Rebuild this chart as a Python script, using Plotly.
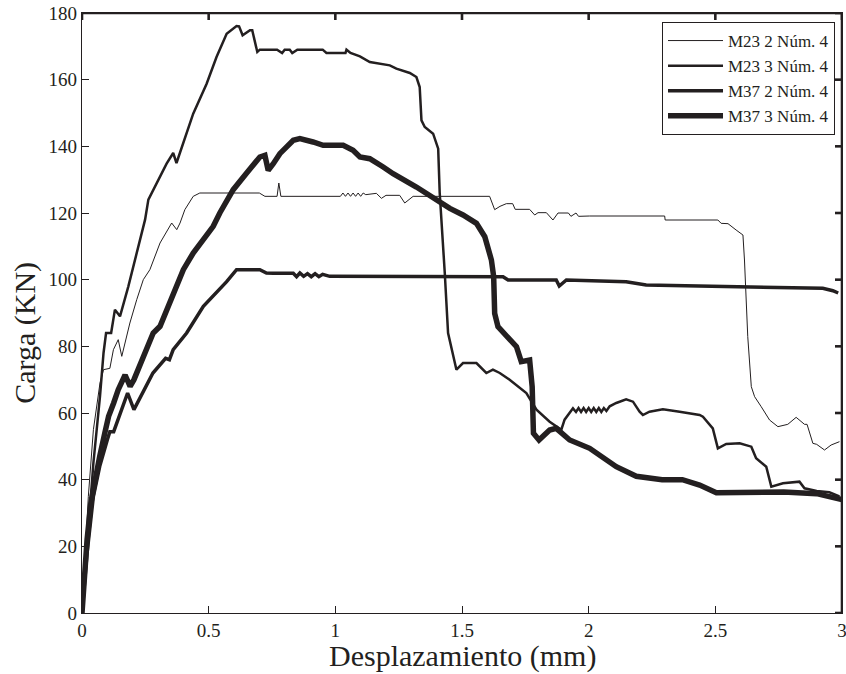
import plotly.graph_objects as go

# ---------------- data ----------------
m23_2_x = [0, 0.01, 0.025, 0.045, 0.06, 0.071, 0.085, 0.11, 0.124, 0.143, 0.157, 0.189, 0.216, 0.242,
           0.268, 0.308, 0.354, 0.374, 0.387, 0.406, 0.439, 0.465, 0.70, 0.722, 0.77, 0.777, 0.785,
           1.02, 1.03, 1.04, 1.05, 1.06, 1.07, 1.08, 1.09, 1.10, 1.11, 1.12, 1.162, 1.182, 1.20, 1.254,
           1.274, 1.307, 1.609, 1.629, 1.65, 1.675, 1.70, 1.71, 1.767, 1.787, 1.80, 1.833, 1.859, 1.879,
           1.92, 1.93, 1.95, 1.96, 2.004, 2.30, 2.302, 2.51, 2.523, 2.55, 2.582, 2.609, 2.615, 2.628,
           2.642, 2.655, 2.681, 2.714, 2.747, 2.786, 2.819, 2.852, 2.862, 2.885, 2.90, 2.931, 2.957, 2.99]
m23_2_y = [0, 15, 35, 55, 64, 69, 73, 73.4, 79, 82, 77, 87, 94, 100,
           103, 111, 117, 115, 117, 121, 125, 126, 126, 125, 125, 129, 125,
           125, 126, 125, 126, 125, 126, 125, 126, 125, 126, 125.5, 125.9, 124.4, 125.3, 125.3,
           123.0, 125.0, 125.0, 121.0, 122.0, 122.8, 122.8, 121.1, 121.1, 119.4, 120.1, 120.1, 117.9, 120,
           120, 119, 120, 119, 119.1, 119.1, 117.9, 117.9, 116.9, 116.8, 114.9, 113.4, 105.9, 82.9,
           67.9, 64.9, 61.9, 57.9, 55.9, 56.6, 58.7, 56.6, 56.6, 50.9, 50.6, 48.9, 50.4, 51.4]

m23_3_x = [0, 0.02, 0.045, 0.071, 0.085, 0.095, 0.115, 0.13, 0.15, 0.183, 0.249, 0.262, 0.308, 0.334,
           0.36, 0.373, 0.439, 0.492, 0.531, 0.571, 0.61, 0.62, 0.634, 0.663, 0.672, 0.692, 0.702,
           0.77, 0.79, 0.80, 0.82, 0.83, 0.85, 0.95, 0.965, 0.98, 1.04, 1.044, 1.06, 1.097, 1.136,
           1.215, 1.241, 1.294, 1.32, 1.333, 1.34, 1.353, 1.386, 1.406, 1.412, 1.432, 1.445, 1.478,
           1.504, 1.557, 1.596, 1.622, 1.649, 1.688, 1.754, 1.794, 1.846, 1.892, 1.905, 1.938, 1.95,
           1.96, 1.97, 1.98, 1.99, 2.0, 2.01, 2.02, 2.03, 2.04, 2.05, 2.06, 2.07, 2.083, 2.109, 2.148,
           2.175, 2.201, 2.214, 2.24, 2.293, 2.359, 2.438, 2.451, 2.49, 2.51, 2.543, 2.596, 2.642,
           2.661, 2.701, 2.721, 2.767, 2.832, 2.852, 2.9, 2.95, 2.99]
m23_3_y = [0, 20, 45, 65, 78, 84, 84, 91, 89, 98, 118, 124, 130.8, 134.8,
           138, 135, 149.8, 158.8, 166.8, 173.8, 176.1, 176, 173.3, 174.8, 174.8, 168.3, 169,
           169, 168, 169, 169, 168, 169, 169, 168, 168, 168, 169, 168, 167, 165.3,
           164.3, 163.3, 162, 160.8, 157.8, 147.8, 145.8, 143.8, 139.3, 126, 102, 84, 73,
           75, 75, 72, 73, 72, 70, 66, 61, 57.4, 55, 58, 61.4, 60.3,
           61.5, 60.3, 61.5, 60.3, 61.5, 60.3, 61.5, 60.3, 61.5, 60.3, 61.5, 60.6, 62, 63, 64.1,
           63.4, 60.4, 59.4, 60.4, 61.1, 60.4, 59.4, 58.9, 55.4, 49.4, 50.7, 50.9, 49.9,
           46.4, 43.9, 37.9, 38.9, 39.4, 37.4, 36.6, 36.2, 35]

m37_2_x = [0, 0.02, 0.045, 0.07, 0.1, 0.11, 0.125, 0.15, 0.18, 0.205, 0.24, 0.28, 0.33, 0.345,
           0.36, 0.413, 0.479, 0.531, 0.571, 0.61, 0.702, 0.728, 0.755, 0.834, 0.847, 0.86, 0.875,
           0.89, 0.905, 0.92, 0.935, 0.95, 0.978, 1.662, 1.682, 1.872, 1.884, 1.912, 2.148, 2.227,
           2.635, 2.924, 2.964, 2.985]
m37_2_y = [0, 18, 35, 44, 52, 54.4, 54.4, 60, 66, 61, 66, 72, 76.4, 76,
           79, 84, 92, 96, 99.4, 103, 103, 102, 101.9, 101.9, 100.9, 102, 101,
           101.8, 100.9, 101.8, 100.9, 101.6, 101, 100.9, 99.9, 99.9, 98.1, 99.9, 99.4, 98.4,
           97.9, 97.4, 96.7, 96]

m37_3_x = [0, 0.01, 0.02, 0.035, 0.05, 0.07, 0.09, 0.105, 0.125, 0.143, 0.17, 0.19, 0.205, 0.242,
           0.281, 0.308, 0.347, 0.4, 0.439, 0.479, 0.518, 0.544, 0.597, 0.65, 0.702, 0.722, 0.735,
           0.755, 0.781, 0.834, 0.86, 0.912, 0.952, 1.031, 1.07, 1.097, 1.136, 1.189, 1.228, 1.32,
           1.399, 1.452, 1.504, 1.557, 1.59, 1.616, 1.625, 1.629, 1.642, 1.675, 1.715, 1.734, 1.767,
           1.777, 1.782, 1.804, 1.846, 1.872, 1.925, 2.004, 2.109, 2.188, 2.29, 2.37, 2.438, 2.504,
           2.635, 2.77, 2.9, 2.95, 3.0]
m37_3_y = [0, 12, 22, 33, 40, 47, 54, 59, 63, 67, 71.4, 68, 70, 77,
           84, 86, 93, 103, 108, 112, 116, 120, 127, 132, 136.8, 137.3, 132.8,
           134.8, 137.8, 141.8, 142.3, 141.3, 140.3, 140.3, 138.8, 136.8, 136.3, 133.8, 131.8, 127.8,
           123.9, 121.4, 119.4, 116.9, 112.9, 105.9, 100.9, 89.9, 85.9, 82.9, 79.9, 75.4, 75.9,
           67.9, 53.9, 51.9, 54.9, 55.4, 51.9, 49.4, 43.9, 41, 40, 40, 38.4, 36.1,
           36.1, 36.3, 35.8, 35, 34]

series_names = ["M23 2 Núm. 4", "M23 3 Núm. 4", "M37 2 Núm. 4", "M37 3 Núm. 4"]
x_ticks = [0, 0.5, 1, 1.5, 2, 2.5, 3]
x_tick_text = ["0", "0.5", "1", "1.5", "2", "2.5", "3"]
y_ticks = [0, 20, 40, 60, 80, 100, 120, 140, 160, 180]
x_range = [0, 3]
y_range = [0, 180]
x_title = "Desplazamiento (mm)"
y_title = "Carga (KN)"

# ---------------- figure ----------------
INK = "#231f20"
FONT = "Liberation Serif, Times New Roman, serif"
widths = [1.0, 2.5, 3.5, 5.5]
xs = [m23_2_x, m23_3_x, m37_2_x, m37_3_x]
ys = [m23_2_y, m23_3_y, m37_2_y, m37_3_y]

W, H = 846, 674
M = dict(l=82, r=4, t=13, b=61)
TICKLEN = 7

fig = go.Figure()
for name, x, y, w in zip(series_names, xs, ys, widths):
    fig.add_trace(go.Scatter(x=x, y=y, mode="lines", name=name,
                             line=dict(color=INK, width=w, shape="linear")))

# top / right frame with inward ticks (MATLAB-style box), built from the axis ranges and tick lists
px_per_x = (W - M["l"] - M["r"]) / (x_range[1] - x_range[0])
px_per_y = (H - M["t"] - M["b"]) / (y_range[1] - y_range[0])
dy = TICKLEN / px_per_y
dx = TICKLEN / px_per_x
fx = [x_range[0], x_range[1], x_range[1], None]
fy = [y_range[1], y_range[1], y_range[0], None]
for t in x_ticks:
    fx += [t, t, None]
    fy += [y_range[1], y_range[1] - dy, None]
for t in y_ticks:
    fx += [x_range[1], x_range[1] - dx, None]
    fy += [t, t, None]
fig.add_trace(go.Scatter(x=fx, y=fy, mode="lines", showlegend=False, hoverinfo="skip",
                         line=dict(color=INK, width=2.6)))

axis_common = dict(showgrid=False, zeroline=False, showline=True, linecolor=INK, linewidth=1.3,
                   mirror="ticks", ticks="inside", ticklen=TICKLEN, tickwidth=1, tickcolor=INK,
                   automargin=False, ticklabeloverflow="allow",
                   tickfont=dict(family=FONT, size=19, color=INK))

fig.update_layout(
    width=W, height=H,
    margin=M,
    paper_bgcolor="white", plot_bgcolor="white",
    font=dict(family=FONT, color=INK),
    xaxis=dict(range=x_range, tickvals=x_ticks, ticktext=x_tick_text, **axis_common),
    yaxis=dict(range=y_range, tickvals=y_ticks, **axis_common),
    legend=dict(x=0.9908, y=0.985, xanchor="right", yanchor="top",
                bgcolor="white", bordercolor=INK, borderwidth=1,
                font=dict(family=FONT, size=17, color=INK),
                tracegroupgap=0, itemwidth=55),
    showlegend=True,
    annotations=[
        dict(text=x_title, xref="paper", yref="paper", x=0.5, y=-0.072,
             xanchor="center", yanchor="middle", showarrow=False,
             font=dict(family=FONT, size=30, color=INK)),
        dict(text=y_title, xref="paper", yref="paper", x=-0.075, y=0.467,
             xanchor="center", yanchor="middle", showarrow=False, textangle=-90,
             font=dict(family=FONT, size=30, color=INK)),
    ],
)

# remove the default 8px page margin so the figure fills the window exactly
fig.write_html("out.html", config={"displayModeBar": False},
               post_script="document.body.style.margin='0';")
